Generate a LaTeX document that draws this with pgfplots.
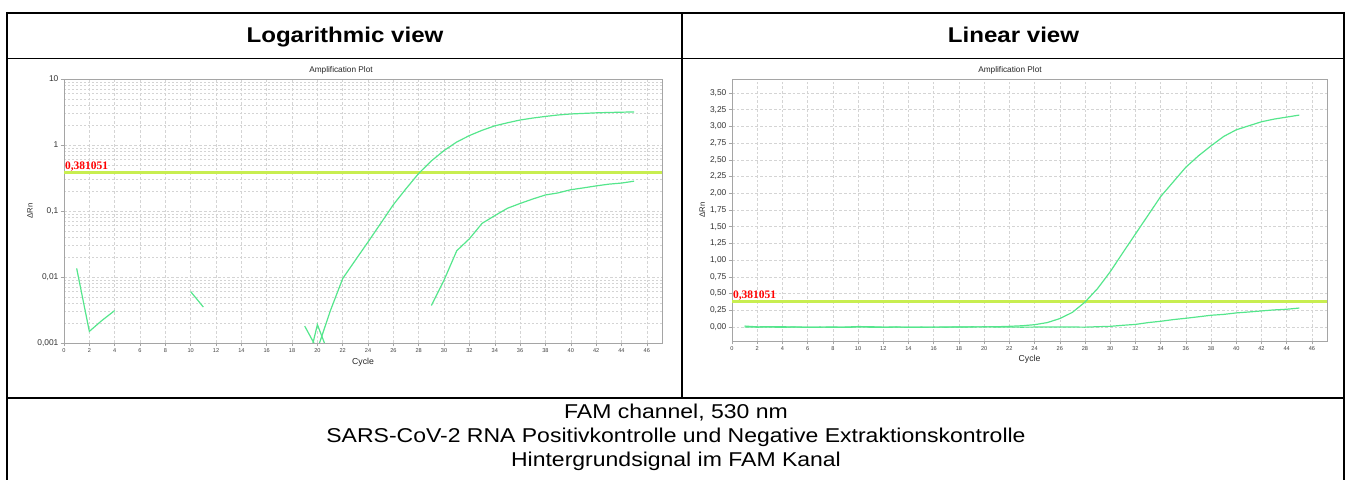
\documentclass[border=0pt]{standalone}
\usepackage{fontspec}
\setmainfont{Liberation Sans}
\newfontfamily\thfont{Liberation Serif}
\usepackage{graphicx}
\usepackage{pgfplots}
\pgfplotsset{compat=1.18}
\usepackage{pgfplotstable}

\definecolor{curve}{RGB}{85,230,140}
\definecolor{thresh}{RGB}{200,238,80}
\definecolor{gridc}{RGB}{212,212,212}
\definecolor{framec}{RGB}{165,165,165}

% positive control (delta Rn per cycle; negatives vanish in log view)
\pgfplotstableread{
cycle dRn
1 0.0135
2 0.0015
3 0.0022
4 0.0031
5 -0.002
6 -0.004
7 -0.003
8 -0.001
9 -0.004
10 -0.002
11 -0.003
12 -0.005
13 -0.002
14 -0.003
15 -0.004
16 -0.002
17 -0.003
18 -0.001
19 0.0018
20 0.0008
21 0.003
22 0.0095
23 0.018
24 0.034
25 0.065
26 0.125
27 0.218
28 0.372
29 0.575
30 0.825
31 1.11
32 1.39
33 1.67
34 1.95
35 2.17
36 2.39
37 2.56
38 2.71
39 2.85
40 2.95
41 3.01
42 3.07
43 3.11
44 3.14
45 3.17
}\posctrl

% negative extraction control
\pgfplotstableread{
cycle dRn
1 -0.001
2 -0.003
3 -0.002
4 -0.004
5 -0.001
6 -0.003
7 -0.002
8 -0.004
9 -0.002
10 0.006
11 0.0035
12 -0.003
13 -0.001
14 -0.004
15 -0.002
16 -0.003
17 -0.001
18 -0.002
19 0.0003
20 0.0019
21 0.0006
22 -0.002
23 -0.003
24 -0.002
25 -0.001
26 -0.002
27 -0.001
28 -0.003
29 0.0037
30 0.009
31 0.025
32 0.038
33 0.065
34 0.085
35 0.11
36 0.13
37 0.152
38 0.175
39 0.188
40 0.21
41 0.224
42 0.24
43 0.255
44 0.265
45 0.283
}\negctrl

\pgfplotsset{
  ampcurve/.style={curve, line width=0.9pt, mark=none},
  threshline/.style={thresh, line width=2.1pt, mark=none},
  ampaxis/.style={
    scale only axis, anchor=south west,
    xmin=0, xmax=47.2, xtick={0,2,...,46},
    axis line style={framec}, tick style={framec, line width=0.4pt},
    tick align=outside, tick pos=left,
    major tick length=2.5pt, minor tick length=0pt,
    grid=major,
    major grid style={gridc, dash pattern=on 2pt off 1.5pt, line width=0.4pt},
    minor grid style={gridc, dash pattern=on 1.5pt off 1.5pt, line width=0.35pt},
    xticklabel style={font=\fontsize{4.2}{5}\selectfont, text=black!75, inner sep=1.5pt},
    yticklabel style={font=\fontsize{6.3}{7}\selectfont, text=black!80, inner sep=1.5pt},
    /pgf/number format/assume math mode=true,
    xlabel={Cycle}, ylabel={ΔRn},
    xlabel style={font=\fontsize{6.5}{7}\selectfont, text=black!85},
    ylabel style={font=\fontsize{5.8}{7}\selectfont, text=black!85},
    unbounded coords=jump, filter discard warning=false,
  },
}

\begin{document}
\begin{tikzpicture}
\begin{scope}[x=0.75pt,y=-0.75pt,shift={(0pt,357pt)}]
  \path[use as bounding box] (0,0) rectangle (1349,476);
\end{scope}

% logarithmic view
\begin{axis}[ampaxis,
    at={(48pt,99.75pt)}, width=448.5pt, height=198pt,
    ymode=log, ymin=0.001, ymax=10,
    ytick={0.001,0.01,0.1,1,10},
    yticklabels={{0,001},{0,01},{0,1},1,10},
    minor ytick={0.002,0.003,0.004,0.005,0.006,0.007,0.008,0.009,
                 0.02,0.03,0.04,0.05,0.06,0.07,0.08,0.09,
                 0.2,0.3,0.4,0.5,0.6,0.7,0.8,0.9,
                 2,3,4,5,6,7,8,9},
    yminorgrids=true,
    xlabel style={at={(axis description cs:0.5,-0.072)}, anchor=center},
    ylabel style={at={(axis description cs:-0.057,0.5)}, anchor=center},
  ]
  \addplot[threshline] coordinates {(0,0.381051) (47.2,0.381051)};
  \addplot[ampcurve] table[x=cycle, y=dRn] {\posctrl};
  \addplot[ampcurve] table[x=cycle, y=dRn] {\negctrl};
  \node[anchor=south west, inner sep=0.6pt, text=red, font=\fontsize{8.6}{9}\selectfont\thfont\bfseries]
    at (axis cs:0,0.381051) {0,381051};
\end{axis}

% linear view
\begin{axis}[ampaxis,
    at={(549pt,101.25pt)}, width=446.25pt, height=196.5pt,
    ymin=-0.21, ymax=3.71,
    ytick={0,0.25,...,3.5},
    yticklabels={{0,00},{0,25},{0,50},{0,75},{1,00},{1,25},{1,50},{1,75},
                 {2,00},{2,25},{2,50},{2,75},{3,00},{3,25},{3,50}},
    xlabel style={at={(axis description cs:0.5,-0.069)}, anchor=center},
    ylabel style={at={(axis description cs:-0.05,0.5)}, anchor=center},
  ]
  \addplot[threshline] coordinates {(0,0.381051) (47.2,0.381051)};
  \addplot[ampcurve] table[x=cycle, y=dRn] {\posctrl};
  \addplot[ampcurve] table[x=cycle, y=dRn] {\negctrl};
  \node[anchor=south west, inner sep=0.6pt, text=red, font=\fontsize{8.6}{9}\selectfont\thfont\bfseries]
    at (axis cs:0,0.381051) {0,381051};
\end{axis}

\begin{scope}[x=0.75pt,y=-0.75pt,shift={(0pt,357pt)}]
  % table frame
  \draw[line width=1.5pt] (7,12) -- (7,480);
  \draw[line width=1.5pt] (6.25,13) -- (1344.75,13);
  \draw[line width=1.5pt] (1344,12) -- (1344,480);
  \draw[line width=1pt] (7,58.5) -- (1344,58.5);
  \draw[line width=1.5pt] (682,13) -- (682,398);
  \draw[line width=1.5pt] (7,398) -- (1344,398);
  % headers
  \node[anchor=base, font=\fontsize{16}{19}\selectfont\bfseries] at (345,43)
    {\scalebox{1.13}[1]{Logarithmic view}};
  \node[anchor=base, font=\fontsize{16}{19}\selectfont\bfseries] at (1013.5,43)
    {\scalebox{1.13}[1]{Linear view}};
  % plot titles
  \node[font=\fontsize{6.2}{7}\selectfont, text=black!85] at (341,70) {Amplification Plot};
  \node[font=\fontsize{6.2}{7}\selectfont, text=black!85] at (1010,70) {Amplification Plot};
  % caption cell
  \node[anchor=base, font=\fontsize{15}{18}\selectfont] at (676,419)
    {\scalebox{1.15}[1]{FAM channel, 530 nm}};
  \node[anchor=base, font=\fontsize{15}{18}\selectfont] at (676,443)
    {\scalebox{1.15}[1]{SARS-CoV-2 RNA Positivkontrolle und Negative Extraktionskontrolle}};
  \node[anchor=base, font=\fontsize{15}{18}\selectfont] at (676,467)
    {\scalebox{1.15}[1]{Hintergrundsignal im FAM Kanal}};
\end{scope}
\end{tikzpicture}
\end{document}
